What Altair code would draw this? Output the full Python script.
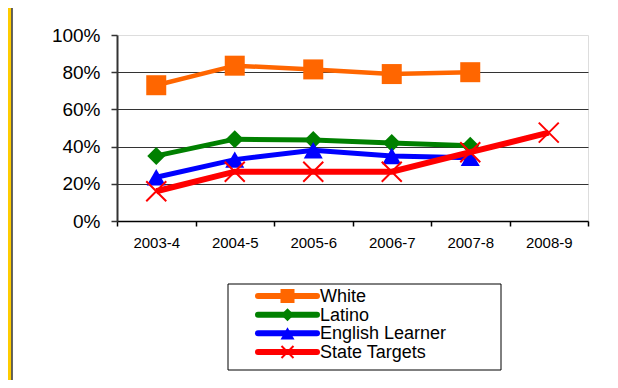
import altair as alt
import pandas as pd

# ---- data ----
years = ["2003-4", "2004-5", "2005-6", "2006-7", "2007-8", "2008-9"]
series = ["White", "Latino", "English Learner", "State Targets"]
white = [0.73, 0.835, 0.815, 0.79, 0.80]
latino = [0.35, 0.44, 0.435, 0.42, 0.405]
english = [0.235, 0.33, 0.38, 0.35, 0.34]
targets = [0.16, 0.265, 0.265, 0.265, 0.37, 0.475]
y_ticks = [0, 0.2, 0.4, 0.6, 0.8, 1.0]

# ---- styles ----
colors = ["#FF6600", "#008000", "#0000FF", "#FF0000"]
line_widths = [4.5, 5, 5, 6]
shapes = ["square", "diamond", "triangle-up", "M-1,-1L1,1M-1,1L1,-1"]
sizes = [400, 324, 361, 400]
leg_sizes = [196, 169, 196, 144]
FONT = "Liberation Sans"

rows = []
for name, vals in zip(series, [white, latino, english, targets]):
    for yr, v in zip(years, vals):
        rows.append({"year": yr, "series": name, "value": v})
df = pd.DataFrame(rows)
legend_df = pd.DataFrame({"series": series})

color_scale = alt.Scale(domain=series, range=colors)
x_scale = alt.Scale(type="band", domain=years, paddingInner=0, paddingOuter=0)
y_scale = alt.Scale(domain=[0, 1])

x_axis = alt.Axis(title=None, tickBand="extent", tickExtra=True, labelAngle=0,
                  labelFont=FONT, labelFontSize=15, labelColor="black",
                  labelPadding=9, tickSize=5, tickColor="black", tickWidth=1.5,
                  domainColor="black", domainWidth=1.5, grid=False)
y_axis = alt.Axis(title=None, values=y_ticks, format=".0%",
                  labelFont=FONT, labelFontSize=19, labelColor="black",
                  labelPadding=11, tickSize=6, tickColor="#333333", tickWidth=1.5,
                  domainColor="#333333", domainWidth=2,
                  grid=True, gridColor="#333333", gridWidth=1,
                  gridOpacity={"condition": {"test": "datum.value >= 1 || datum.value <= 0", "value": 0}, "value": 1})

X = alt.X("year:N", sort=years, scale=x_scale, bandPosition=0.5, axis=x_axis)
Y = alt.Y("value:Q", scale=y_scale, axis=y_axis)
C = alt.Color("series:N", scale=color_scale, legend=None)

base = alt.Chart(df)

# decoration: yellow frame strip on the left edge
deco = alt.Chart(pd.DataFrame({"k": [0]}))
strip = deco.mark_rect(fill="#FFCC00").encode(
    x=alt.value(-110), x2=alt.value(-105.5), y=alt.value(-30), y2=alt.value(350))
strip_line = deco.mark_rule(color="#333333", strokeWidth=1.5).encode(
    x=alt.value(-105), y=alt.value(-30), y2=alt.value(350))

main_layers = []
for i, name in enumerate(series):
    sub = base.transform_filter(alt.datum.series == name)
    line = sub.mark_line(strokeWidth=line_widths[i]).encode(x=X, y=Y, color=C)
    if shapes[i].startswith("M"):
        pts = sub.mark_point(filled=False, strokeWidth=2, opacity=1, shape=shapes[i], size=sizes[i])
    else:
        pts = sub.mark_point(filled=True, opacity=1, shape=shapes[i], size=sizes[i])
    pts = pts.encode(x=X, y=Y, color=C)
    main_layers += [line, pts]

main = alt.layer(*main_layers)

# ---- legend drawn as a layer ----
leg_y = alt.Y("series:N", scale=alt.Scale(type="point", domain=series, range=[261, 317], padding=0), axis=None)
leg = alt.Chart(legend_df)
box = deco.mark_rect(fill="white", stroke="black", strokeWidth=1).encode(
    x=alt.value(111), x2=alt.value(384), y=alt.value(249), y2=alt.value(335))
leg_rule = leg.mark_rule(strokeWidth=6, strokeCap="round").encode(
    x=alt.value(141), x2=alt.value(200), y=leg_y, color=C)
leg_layers = [strip, strip_line, box, leg_rule]
for i, name in enumerate(series):
    s = leg.transform_filter(alt.datum.series == name)
    if shapes[i].startswith("M"):
        m = s.mark_point(filled=False, strokeWidth=2, opacity=1, shape=shapes[i], size=leg_sizes[i])
    else:
        m = s.mark_point(filled=True, opacity=1, shape=shapes[i], size=leg_sizes[i])
    leg_layers.append(m.encode(x=alt.value(170.5), y=leg_y, color=C))
leg_text = leg.mark_text(align="left", baseline="middle", font=FONT, fontSize=18,
                         color="black", dy=1).encode(
    x=alt.value(203), y=leg_y, text="series:N")
leg_layers.append(leg_text)
legend = alt.layer(*leg_layers)

chart = alt.layer(main, legend).resolve_scale(y="independent").properties(
    width=471, height=186,
    padding={"left": 109, "top": 27, "right": 22, "bottom": 159},
    autosize=alt.AutoSizeParams(type="none"),
    background="white",
).configure_view(stroke="#999999", strokeWidth=2.5).configure(font=FONT)

chart.save("out.html", embed_options={"renderer": "svg", "actions": False})
